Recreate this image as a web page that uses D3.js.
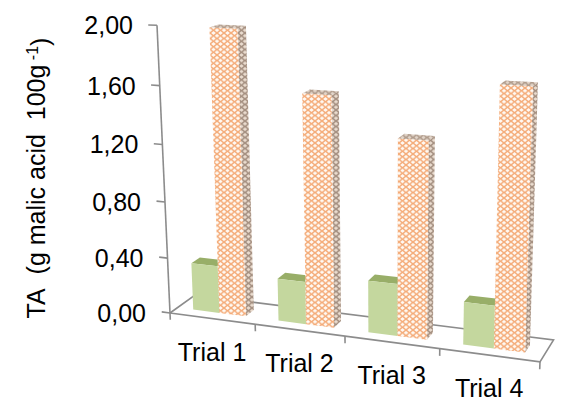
<!DOCTYPE html>
<html>
<head>
<meta charset="utf-8">
<script src="https://cdn.jsdelivr.net/npm/d3@7"></script>
<style>
  body { margin: 0; background: #fff; }
  text { font-family: "Liberation Sans", Arial, sans-serif; fill: #000; }
</style>
</head>
<body>
<div id="chart"></div>
<script>
// datos
const trials = ["Trial 1", "Trial 2", "Trial 3", "Trial 4"];
const series = ["green", "hatch"];
const greenValues = [0.34, 0.30, 0.36, 0.29];
const hatchValues = [1.98, 1.58, 1.33, 1.71];
const yTicks = [0, 0.4, 0.8, 1.2, 1.6, 2.0];

const width = 570;
const height = 402;

const svg = d3.select("#chart")
  .append("svg")
  .attr("width", width)
  .attr("height", height);

// camara en perspectiva (3 puntos de fuga), mundo: X categorias, Y valor, Z profundidad
const origin = [170, 313];
const vpX = [-3066, -114], wX = -0.1026;
const vpY = [386, 5093], wY = -0.05677;
const vpZ = [895, -209], wZ = 0.0357;

function proj([X, Y, Z]) {
  const d = 1 + wX * X + wY * Y + wZ * Z;
  const px = origin[0] + wX * X * vpX[0] + wY * Y * vpY[0] + wZ * Z * vpZ[0];
  const py = origin[1] + wX * X * vpX[1] + wY * Y * vpY[1] + wZ * Z * vpZ[1];
  return [px / d, py / d];
}

const x0 = d3.scaleBand().domain(trials).range([0, 1]);
const gap = 0.047;
const x1 = d3.scaleBand().domain(series).range([gap, x0.bandwidth() - gap]);
const y = d3.scaleLinear().domain([0, 2]).range([0, 1]);
const z0 = 0.3, z1 = 0.64;

const line = d3.line();

// patrones de rejilla
const defs = svg.append("defs");
function hatch(id, bg, stroke, sw) {
  const p = defs.append("pattern")
    .attr("id", id)
    .attr("patternUnits", "userSpaceOnUse")
    .attr("width", 7)
    .attr("height", 5.5);
  p.append("rect").attr("width", 7).attr("height", 5.5).attr("fill", bg);
  p.append("path")
    .attr("d", "M-1,-0.8L8,6.3M8,-0.8L-1,6.3")
    .attr("stroke", stroke)
    .attr("stroke-width", sw)
    .attr("fill", "none");
}
hatch("hFront", "#fffaf4", "#f4ab78", 1.4);
hatch("hSide", "#eadccf", "#a48f80", 1.5);
hatch("hTop", "#e2d5c9", "#b09c8c", 1.5);

const axisColor = "#8c8c8c";

// suelo
const floor = svg.append("g")
  .attr("fill", "none")
  .attr("stroke", axisColor)
  .attr("stroke-width", 1.6);

floor.append("path")
  .attr("d", line([[0, 0, 0], [1, 0, 0], [1, 0, 1], [0, 0, 1], [0, 0, 0]].map(proj)));

// marcas de categoria
[0, 0.25, 0.5, 0.75, 1].forEach((t) => {
  floor.append("path").attr("d", line([[t, 0, 0], [t, -0.025, 0]].map(proj)));
});

// eje vertical
floor.append("path").attr("d", line([[0, 0, 0], [0, 1, 0]].map(proj)));
yTicks.forEach((v) => {
  floor.append("path").attr("d", line([[0, y(v), 0], [-0.025, y(v), 0]].map(proj)));
});

svg.append("g")
  .selectAll("text")
  .data(yTicks)
  .join("text")
  .attr("x", (d) => proj([0, y(d), 0])[0] - 24)
  .attr("y", (d) => proj([0, y(d), 0])[1])
  .attr("dy", "0.36em")
  .attr("text-anchor", "end")
  .style("font-size", "25px")
  .text((d) => d.toFixed(2).replace(".", ","));

// barras
const bars = [];
trials.forEach((t, i) => {
  bars.push({ t, s: "green", v: greenValues[i] });
  bars.push({ t, s: "hatch", v: hatchValues[i] });
});

const gBars = svg.append("g");
bars.forEach((b) => {
  const a = x0(b.t) + x1(b.s);
  const c = a + x1.bandwidth();
  const h = y(b.v);
  const front = [[a, 0, z0], [c, 0, z0], [c, h, z0], [a, h, z0]];
  const side = [[c, 0, z0], [c, 0, z1], [c, h, z1], [c, h, z0]];
  const top = [[a, h, z0], [c, h, z0], [c, h, z1], [a, h, z1]];
  const g = gBars.append("g");
  const fills = b.s === "green"
    ? { side: "#a9c077", top: "#98ae68", front: "#c4d79e" }
    : { side: "url(#hSide)", top: "url(#hTop)", front: "url(#hFront)" };
  g.append("path").attr("d", line(side.map(proj)) + "Z").attr("fill", fills.side);
  g.append("path").attr("d", line(top.map(proj)) + "Z").attr("fill", fills.top);
  g.append("path").attr("d", line(front.map(proj)) + "Z").attr("fill", fills.front);
});

// etiquetas de categoria
svg.append("g")
  .selectAll("text")
  .data(trials)
  .join("text")
  .attr("x", (d) => proj([x0(d) + x0.bandwidth() / 2, 0, 0])[0])
  .attr("y", (d) => proj([x0(d) + x0.bandwidth() / 2, 0, 0])[1] + 42)
  .attr("text-anchor", "middle")
  .style("font-size", "25px")
  .text((d) => d);

// titulo del eje
const title = svg.append("text")
  .attr("transform", "translate(45,178) rotate(-90)")
  .attr("text-anchor", "middle")
  .style("font-size", "25px");
title.append("tspan").text("TA\u00a0\u00a0(g malic acid\u00a0\u00a0100g");
title.append("tspan").attr("dy", "-0.45em").style("font-size", "16px").text("\u00a0-1");
title.append("tspan").attr("dy", "0.45em").text(")");
</script>
</body>
</html>
